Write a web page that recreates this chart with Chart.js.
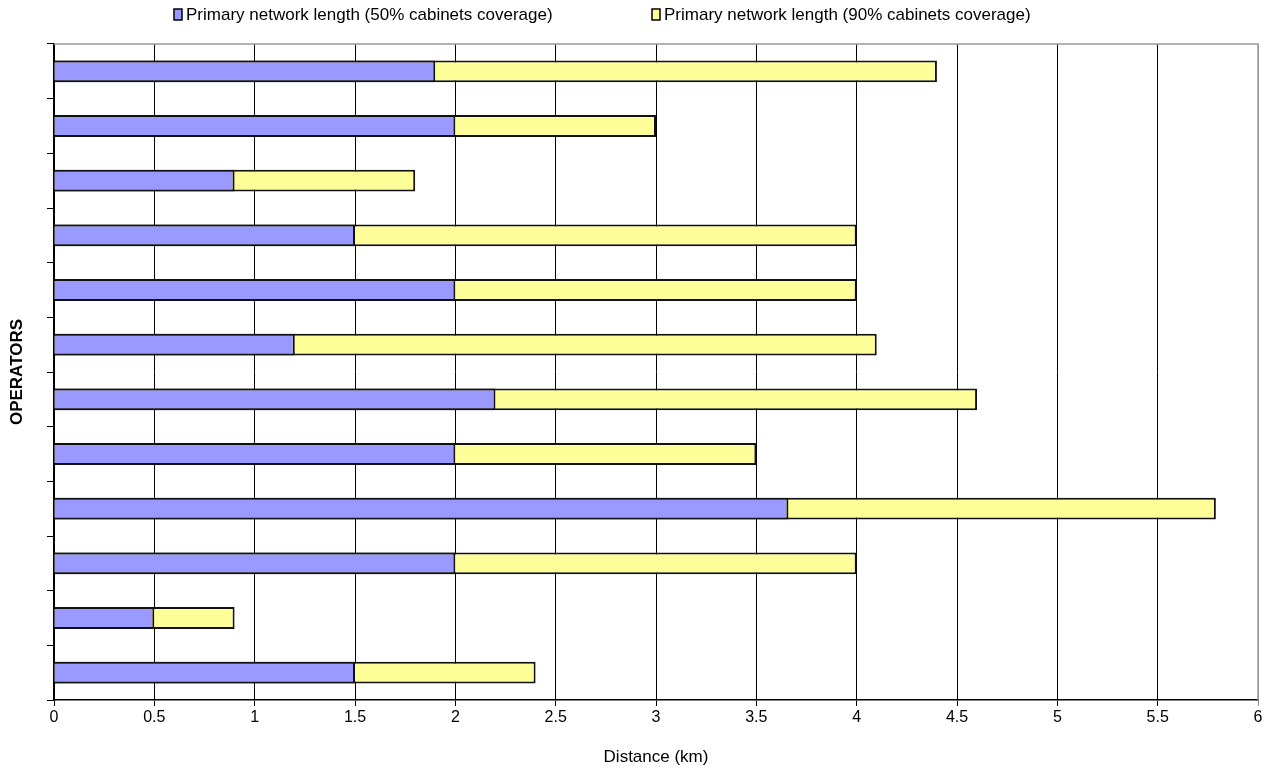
<!DOCTYPE html>
<html lang="en">
<head>
  <meta charset="UTF-8" />
  <title>Primary network length</title>
  <script src="https://cdn.jsdelivr.net/npm/chart.js"></script>
  <style>
    html, body { margin: 0; padding: 0; background: #fff; }
    .wrap { width: 1276px; height: 773px; position: relative; }
  </style>
</head>
<body>
  <div class="wrap"><canvas id="chart"></canvas></div>
  <script>
    // operators are unnamed in the source chart (top to bottom)
    const operators = ['', '', '', '', '', '', '', '', '', '', '', ''];
    const len50 = [1.9, 2.0, 0.9, 1.5, 2.0, 1.2, 2.2, 2.0, 3.66, 2.0, 0.5, 1.5];
    const len90 = [4.4, 3.0, 1.8, 4.0, 4.0, 4.1, 4.6, 3.5, 5.79, 4.0, 0.9, 2.4];
    const xTicks = [0, 0.5, 1, 1.5, 2, 2.5, 3, 3.5, 4, 4.5, 5, 5.5, 6];

    const FONT = "'Liberation Sans', Arial, sans-serif";
    Chart.defaults.font.family = FONT;
    Chart.defaults.color = '#000';

    // legend drawn by hand, Excel style
    const legendPlugin = {
      id: 'xlLegend',
      afterDraw(chart) {
        const ctx = chart.ctx;
        const xs = [174, 652];
        ctx.save();
        ctx.font = '17px ' + FONT;
        ctx.textBaseline = 'middle';
        chart.data.datasets.forEach((ds, i) => {
          ctx.fillStyle = ds.backgroundColor;
          ctx.fillRect(xs[i], 9, 8, 11);
          ctx.strokeStyle = '#000';
          ctx.lineWidth = 1.5;
          ctx.strokeRect(xs[i], 9, 8, 11);
          ctx.fillStyle = '#000';
          ctx.fillText(ds.label, xs[i] + 12, 15);
        });
        ctx.restore();
      }
    };

    // gray frame on top and right of plot area
    const framePlugin = {
      id: 'frame',
      beforeDatasetsDraw(chart) {
        const a = chart.chartArea, ctx = chart.ctx;
        ctx.save();
        ctx.strokeStyle = '#999';
        ctx.lineWidth = 1.5;
        ctx.beginPath();
        ctx.moveTo(a.left, a.top);
        ctx.lineTo(a.right, a.top);
        ctx.lineTo(a.right, a.bottom);
        ctx.stroke();
        ctx.restore();
      }
    };

    new Chart(document.getElementById('chart'), {
      type: 'bar',
      data: {
        labels: operators,
        datasets: [
          { label: 'Primary network length (50% cabinets coverage)', data: len50,
            backgroundColor: '#9999FF', borderColor: '#111', borderWidth: 2,
            grouped: false, categoryPercentage: 1, barPercentage: 0.4 },
          { label: 'Primary network length (90% cabinets coverage)', data: len90,
            backgroundColor: '#FFFF99', borderColor: '#111', borderWidth: 2,
            grouped: false, categoryPercentage: 1, barPercentage: 0.4 }
        ]
      },
      options: {
        indexAxis: 'y',
        responsive: true,
        maintainAspectRatio: false,
        animation: false,
        layout: { padding: { top: 44, right: 18, left: 0, bottom: 0 } },
        plugins: {
          legend: { display: false },
          tooltip: { enabled: true }
        },
        scales: {
          x: {
            min: 0, max: 6,
            afterBuildTicks: s => { s.ticks = xTicks.map(v => ({ value: v })); },
            afterFit: s => { s.height = 73; },
            border: { color: '#000', width: 1.5 },
            grid: {
              color: ctx => (ctx.tick && ctx.tick.value === 6) ? '#999' : '#000',
              lineWidth: 1,
              tickLength: 6
            },
            ticks: { font: { size: 16 }, padding: 2, maxRotation: 0, callback: v => String(v) },
            title: { display: true, text: 'Distance (km)', font: { size: 17 }, padding: { top: 0, bottom: 5 } }
          },
          y: {
            offset: true,
            afterFit: s => { s.width = 54; },
            border: { color: '#000', width: 1.5 },
            grid: { offset: true, drawOnChartArea: false, drawTicks: true, tickLength: 7, color: '#000' },
            ticks: { display: false },
            title: { display: true, text: 'OPERATORS', font: { size: 17, weight: 'bold' }, padding: { top: 7, bottom: 0 } }
          }
        }
      },
      plugins: [framePlugin, legendPlugin]
    });
  </script>
</body>
</html>
